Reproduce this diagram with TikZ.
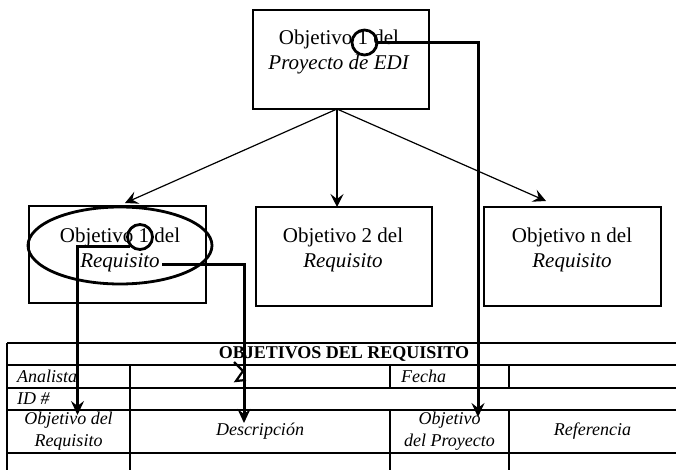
\documentclass[tikz,border=0pt]{standalone}
\usepackage{fontspec}
\setmainfont{Liberation Serif}
\usetikzlibrary{arrows.meta,shapes.geometric}
\begin{document}
\begin{tikzpicture}[x=1pt,y=-1pt,
  box/.style={draw,line width=1.3pt,inner sep=0pt},
  boxtext/.style={align=center,font=\fontsize{21}{25}\selectfont,inner sep=0pt},
  tabtext/.style={font=\fontsize{18}{22}\selectfont\itshape,inner sep=0pt},
  ring/.style={draw,circle,line width=2.8pt,minimum size=25pt,inner sep=0pt},
  thinarrow/.style={line width=1.2pt,-{Stealth[length=13pt,width=13pt,inset=5pt]}},
  thickarrow/.style={line width=3pt,-{Stealth[length=14pt,width=13pt,inset=5pt]}},
  grid/.style={line width=1.3pt}]
\useasboundingbox (0,0) rectangle (676,470);
\fill[white] (0,0) rectangle (676,470);
% boxes
\node[box,minimum width=176pt,minimum height=99pt] (top) at (341,59.5) {};
\node[box,minimum width=177pt,minimum height=97pt] (b1) at (117.5,254.5) {};
\node[box,minimum width=176pt,minimum height=99pt] (b2) at (344,256.5) {};
\node[box,minimum width=177pt,minimum height=99pt] (b3) at (572.5,256.5) {};
% box texts
\node[boxtext] (ttop) at (339,52) {Objetivo 1 del\\\textit{Proyecto de EDI}};
\node[boxtext] (tb1) at (120,250) {Objetivo 1 del\\\textit{Requisito}};
\node[boxtext] (tb2) at (343,250) {Objetivo 2 del\\\textit{Requisito}};
\node[boxtext] (tb3) at (572,250) {Objetivo n del\\\textit{Requisito}};
% marks
\node[ring] (c1) at (364.5,42.5) {};
\node[ring] (c2) at (140,237) {};
\node[draw,ellipse,line width=2.8pt,minimum width=184pt,minimum height=77pt] (ell) at (120,245.5) {};
% tree arrows
\coordinate (apex) at (337,109);
\coordinate (e1) at (125,203);
\coordinate (e2) at (337,207);
\coordinate (e3) at (546,201);
\draw[thinarrow] (apex) -- (e1);
\draw[thinarrow] (apex) -- (e2);
\draw[thinarrow] (apex) -- (e3);
% table
\draw[grid] (7,343) -- (676,343);
\draw[grid] (7,365) -- (676,365);
\draw[grid] (7,388) -- (676,388);
\draw[grid] (7,410) -- (676,410);
\draw[grid] (7,453) -- (676,453);
\draw[grid] (7,343) -- (7,470);
\draw[grid] (130,365) -- (130,470);
\draw[grid] (390,365) -- (390,388);
\draw[grid] (390,410) -- (390,470);
\draw[grid] (509,365) -- (509,388);
\draw[grid] (509,410) -- (509,470);
\node[inner sep=0pt,font=\fontsize{18}{22}\selectfont\bfseries] (title) at (344,354) {OBJETIVOS DEL REQUISITO};
\node[tabtext,anchor=west] (analista) at (17,376) {Analista};
\node[tabtext,anchor=west] (fecha) at (401,376) {Fecha};
\node[tabtext,anchor=west] (id) at (17,399) {ID \#};
\node[tabtext,align=center] (h1) at (68.5,431) {Objetivo del\\Requisito};
\node[tabtext] (h2) at (260,431) {Descripción};
\node[tabtext,align=center] (h3) at (449.5,431) {Objetivo\\del Proyecto};
\node[tabtext] (h4) at (592.5,431) {Referencia};
% thick connectors
\coordinate (t1) at (77.5,415);
\coordinate (t2) at (244,423);
\coordinate (t3) at (478,417);
\coordinate (r1) at (162,264);
\draw[thickarrow] (c1.east) -| (t3);
\draw[thickarrow] (c2.south west) -| (t1);
\draw[thickarrow] (r1) -| (t2);
% stray mark
\draw[line width=2.2pt] (234,362) -- (243,371) -- (236,381) -- (246,380);
\end{tikzpicture}
\end{document}
